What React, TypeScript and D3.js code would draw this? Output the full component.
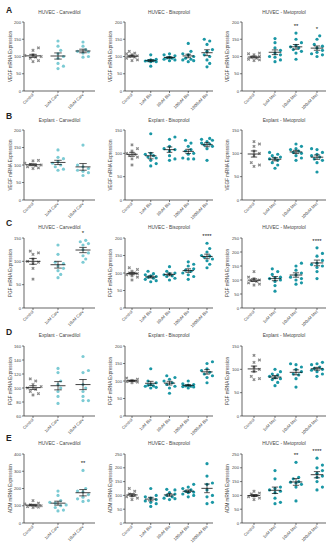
import * as d3 from "d3";
import React from "react";

// group labels
const groupsCarv = ["Control", "1uM Carv", "10uM Carv"];
const groupsBis = ["Control", "1uM Bis", "10uM Bis", "100uM Bis", "1000uM Bis"];
const groupsMet = ["Control", "1uM Met", "10uM Met", "100uM Met"];

// A - VEGF
const vegfHuvecCarv = [
  [125, 118, 105, 100, 98, 95, 88, 85, 103],
  [145, 130, 118, 108, 100, 95, 80, 72, 65],
  [142, 130, 120, 115, 113, 110, 100, 98],
];
const vegfHuvecBis = [
  [115, 110, 105, 100, 98, 95, 90, 88, 102, 108],
  [105, 92, 90, 88, 88, 87, 85, 85, 72],
  [108, 105, 102, 98, 96, 95, 92, 90, 88],
  [138, 115, 108, 105, 100, 95, 92, 90, 88, 85],
  [150, 145, 135, 120, 115, 105, 100, 90, 80, 70],
];
const vegfHuvecMet = [
  [110, 108, 105, 100, 98, 95, 92, 90, 88],
  [152, 140, 125, 118, 110, 105, 100, 98, 90, 85],
  [168, 150, 140, 132, 128, 125, 120, 115, 110, 92],
  [160, 150, 135, 130, 125, 118, 112, 108, 105, 100],
];
const starsVegfHuvecMet = ["", "", "**", "*"];

// B - VEGF explant
const vegfExplCarv = [
  [113, 112, 105, 102, 100, 98, 95, 92, 90],
  [143, 122, 118, 110, 105, 100, 95, 88, 85],
  [157, 100, 95, 90, 85, 82, 78, 70],
];
const vegfExplBis = [
  [118, 110, 105, 100, 98, 95, 92, 88, 75],
  [142, 100, 98, 95, 92, 90, 85, 78, 73],
  [135, 130, 115, 110, 108, 105, 95, 88, 85],
  [128, 122, 115, 108, 105, 100, 98, 90, 88, 88],
  [132, 130, 128, 125, 122, 120, 118, 115, 110, 85],
];
const vegfExplMet = [
  [125, 120, 115, 105, 100, 95, 80, 75, 72],
  [102, 98, 95, 92, 90, 88, 85, 80, 75, 68],
  [120, 115, 110, 108, 105, 102, 100, 95, 90, 85],
  [110, 108, 102, 98, 95, 92, 88, 85, 80, 60],
];

// C - PGF
const pgfHuvecCarv = [
  [122, 118, 115, 105, 100, 98, 95, 85, 62],
  [135, 115, 98, 95, 90, 85, 80, 72, 65],
  [145, 142, 138, 135, 125, 118, 112, 105, 98],
];
const starsPgfHuvecCarv = ["", "", "*"];
const pgfHuvecBis = [
  [115, 110, 105, 100, 100, 98, 95, 92, 88, 80],
  [105, 98, 95, 92, 90, 88, 85, 82, 78, 75],
  [118, 105, 100, 98, 95, 92, 90, 85, 80],
  [132, 125, 120, 112, 108, 105, 100, 95, 90, 82],
  [185, 170, 160, 150, 148, 145, 140, 135, 125, 115],
];
const starsPgfHuvecBis = ["", "", "", "", "****"];
const pgfHuvecMet = [
  [130, 110, 105, 100, 98, 95, 90, 85, 82],
  [140, 130, 120, 110, 108, 105, 100, 95, 80, 60],
  [160, 150, 135, 125, 118, 110, 105, 100, 90, 85],
  [215, 195, 185, 170, 160, 155, 150, 145, 130, 105],
];
const starsPgfHuvecMet = ["", "", "", "****"];

// D - PGF explant
const pgfExplCarv = [
  [113, 110, 105, 102, 100, 98, 95, 92, 90],
  [128, 122, 110, 105, 100, 95, 88, 78],
  [145, 125, 122, 105, 100, 95, 88, 82, 82],
];
const pgfExplBis = [
  [108, 105, 102, 100, 100, 98, 97, 95],
  [135, 100, 95, 90, 88, 86, 85, 82, 80],
  [115, 110, 105, 100, 95, 90, 85, 80, 65],
  [100, 92, 90, 88, 86, 85, 84, 83, 80],
  [155, 150, 135, 130, 125, 120, 115, 110, 95],
];
const pgfExplMet = [
  [130, 120, 115, 105, 100, 95, 85, 80, 78],
  [100, 95, 90, 88, 85, 82, 80, 78, 72, 65],
  [112, 110, 105, 100, 95, 90, 88, 80, 62],
  [115, 112, 110, 105, 102, 100, 98, 95, 90, 85],
];

// E - ADM
const admHuvecCarv = [
  [130, 115, 110, 105, 100, 98, 95, 92, 90],
  [185, 160, 130, 120, 115, 105, 100, 90, 75, 70],
  [305, 200, 185, 180, 165, 150, 140, 130, 125],
];
const starsAdmHuvecCarv = ["", "", "**"];
const admHuvecBis = [
  [125, 115, 105, 100, 98, 95, 90, 85],
  [125, 100, 95, 90, 85, 80, 75, 70, 60],
  [122, 120, 110, 105, 100, 95, 90, 88, 85],
  [140, 130, 125, 120, 115, 112, 110, 105, 100, 95],
  [215, 170, 145, 140, 120, 100, 95, 75, 70],
];
const admHuvecMet = [
  [115, 108, 105, 100, 98, 95, 90, 85],
  [190, 160, 130, 125, 120, 115, 110, 90, 75, 70],
  [220, 165, 160, 150, 148, 145, 140, 130, 80],
  [235, 210, 200, 190, 180, 170, 165, 150, 130, 120],
];
const starsAdmHuvecMet = ["", "", "**", "****"];

const ticks200 = [0, 50, 100, 150, 200];
const ticks150 = [0, 50, 100, 150];
const ticks250 = [0, 50, 100, 150, 200, 250];
const ticks60to160 = [60, 80, 100, 120, 140, 160];
const ticks400 = [0, 100, 200, 300, 400];

const cols = [
  { left: 24, right: 95, first: 33, last: 83, labelX: 12 },
  { left: 125, right: 213, first: 132, last: 207, labelX: 112 },
  { left: 242, right: 326, first: 254, last: 317, labelX: 229 },
];
const rows = [
  { top: 22, bottom: 91, titleY: 14, letterY: 13 },
  { top: 130, bottom: 200, titleY: 122, letterY: 119 },
  { top: 238, bottom: 308, titleY: 229, letterY: 226 },
  { top: 346, bottom: 416, titleY: 337, letterY: 335 },
  { top: 454, bottom: 523, titleY: 445, letterY: 441 },
];

const panels = [
  { row: 0, col: 0, letter: "A", title: "HUVEC - Carvedilol", ylab: "VEGF mRNA Expression", groups: groupsCarv, values: vegfHuvecCarv, ticks: ticks200, stars: null },
  { row: 0, col: 1, title: "HUVEC - Bisoprolol", ylab: "VEGF mRNA Expression", groups: groupsBis, values: vegfHuvecBis, ticks: ticks200, stars: null },
  { row: 0, col: 2, title: "HUVEC - Metoprolol", ylab: "VEGF mRNA Expression", groups: groupsMet, values: vegfHuvecMet, ticks: ticks200, stars: starsVegfHuvecMet },
  { row: 1, col: 0, letter: "B", title: "Explant - Carvedilol", ylab: "VEGF mRNA Expression", groups: groupsCarv, values: vegfExplCarv, ticks: ticks200, stars: null },
  { row: 1, col: 1, title: "Explant - Bisoprolol", ylab: "VEGF mRNA Expression", groups: groupsBis, values: vegfExplBis, ticks: ticks150, stars: null },
  { row: 1, col: 2, title: "Explant - Metoprolol", ylab: "VEGF mRNA Expression", groups: groupsMet, values: vegfExplMet, ticks: ticks150, stars: null },
  { row: 2, col: 0, letter: "C", title: "HUVEC - Carvedilol", ylab: "PGF mRNA Expression", groups: groupsCarv, values: pgfHuvecCarv, ticks: ticks150, stars: starsPgfHuvecCarv },
  { row: 2, col: 1, title: "HUVEC - Bisoprolol", ylab: "PGF mRNA Expression", groups: groupsBis, values: pgfHuvecBis, ticks: ticks200, stars: starsPgfHuvecBis },
  { row: 2, col: 2, title: "HUVEC - Metoprolol", ylab: "PGF mRNA Expression", groups: groupsMet, values: pgfHuvecMet, ticks: ticks250, stars: starsPgfHuvecMet },
  { row: 3, col: 0, letter: "D", title: "Explant - Carvedilol", ylab: "PGF mRNA Expression", groups: groupsCarv, values: pgfExplCarv, ticks: ticks60to160, stars: null },
  { row: 3, col: 1, title: "Explant - Bisoprolol", ylab: "PGF mRNA Expression", groups: groupsBis, values: pgfExplBis, ticks: ticks200, stars: null },
  { row: 3, col: 2, title: "Explant - Metoprolol", ylab: "PGF mRNA Expression", groups: groupsMet, values: pgfExplMet, ticks: ticks150, stars: null },
  { row: 4, col: 0, letter: "E", title: "HUVEC - Carvedilol", ylab: "ADM mRNA Expression", groups: groupsCarv, values: admHuvecCarv, ticks: ticks400, stars: starsAdmHuvecCarv },
  { row: 4, col: 1, title: "HUVEC - Bisoprolol", ylab: "ADM mRNA Expression", groups: groupsBis, values: admHuvecBis, ticks: ticks250, stars: null },
  { row: 4, col: 2, title: "HUVEC - Metoprolol", ylab: "ADM mRNA Expression", groups: groupsMet, values: admHuvecMet, ticks: ticks250, stars: starsAdmHuvecMet },
];

const font = "'Liberation Sans', Arial, sans-serif";
const R = 1.6;

// simple beeswarm so dots with close values spread sideways, kept inside the group
function swarm(vals: number[], y: (v: number) => number, maxOff: number) {
  const placed: { x: number; y: number }[] = [];
  const dx = vals.map(() => 0);
  const order = d3.range(vals.length).sort((a, b) => vals[a] - vals[b]);
  for (const i of order) {
    const py = y(vals[i]);
    let best = 0;
    let bestGap = -1;
    for (let k = 0; k < 30; k++) {
      const cand = k === 0 ? 0 : (k % 2 ? 1 : -1) * Math.ceil(k / 2) * R * 1.7;
      if (Math.abs(cand) > maxOff) break;
      const gap = d3.min(placed, (p) => Math.hypot(p.x - cand, p.y - py)) ?? 99;
      if (gap >= 2 * R * 1.25) {
        best = cand;
        bestGap = 99;
        break;
      }
      if (gap > bestGap) {
        bestGap = gap;
        best = cand;
      }
    }
    placed.push({ x: best, y: py });
    dx[i] = best;
  }
  return dx;
}

const Panel = ({ p }: { p: any }) => {
  const c = cols[p.col];
  const r = rows[p.row];
  const x = d3.scalePoint().domain(p.groups).range([c.first, c.last]);
  const y = d3.scaleLinear().domain(d3.extent(p.ticks) as [number, number]).range([r.bottom, r.top]);
  const step = (c.last - c.first) / (p.groups.length - 1);
  const meanW = step * 0.3;
  const capW = step * 0.15;

  return (
    <g>
      {p.letter && (
        <text x={6} y={r.letterY} fontSize={8.5} fontWeight="bold" fill="#222">
          {p.letter}
        </text>
      )}
      <text x={(c.left + c.right) / 2} y={r.titleY} fontSize={4.8} textAnchor="middle" fill="#444">
        {p.title}
      </text>
      <text
        transform={`translate(${c.labelX},${(r.top + r.bottom) / 2}) rotate(-90)`}
        fontSize={4.6}
        textAnchor="middle"
        fill="#444"
      >
        {p.ylab}
      </text>
      {/* y axis */}
      <line x1={c.left} x2={c.left} y1={r.top} y2={r.bottom} stroke="#222" strokeWidth={0.7} />
      {p.ticks.map((t: number) => (
        <g key={t}>
          <line x1={c.left - 2} x2={c.left} y1={y(t)} y2={y(t)} stroke="#222" strokeWidth={0.6} />
          <text x={c.left - 3} y={y(t) + 1.5} fontSize={4.2} textAnchor="end" fill="#444">
            {t}
          </text>
        </g>
      ))}
      {/* x axis */}
      <line x1={c.left} x2={c.right} y1={r.bottom} y2={r.bottom} stroke="#222" strokeWidth={0.7} />
      {p.groups.map((g: string) => (
        <g key={g}>
          <line x1={x(g)} x2={x(g)} y1={r.bottom} y2={r.bottom + 2} stroke="#222" strokeWidth={0.6} />
          <text
            transform={`translate(${(x(g) as number) + 1},${r.bottom + 4}) rotate(-45)`}
            fontSize={4.2}
            textAnchor="end"
            fill="#444"
          >
            {g}
          </text>
        </g>
      ))}
      {/* groups */}
      {p.values.map((vals: number[], gi: number) => {
        const g = p.groups[gi];
        const cx = x(g) as number;
        const dx = swarm(vals, y, step * 0.38);
        const m = d3.mean(vals) as number;
        const sem = (d3.deviation(vals) as number) / Math.sqrt(vals.length);
        const color = gi === 0 ? "#8a8a8a" : p.col === 0 ? "#7ccbd4" : "#1a97a5";
        return (
          <g key={g}>
            {vals.map((v, i) =>
              gi === 0 ? (
                <path
                  key={i}
                  d={d3.symbol(d3.symbolCross, 7)() as string}
                  transform={`translate(${cx + dx[i]},${y(v)}) rotate(45)`}
                  fill={color}
                />
              ) : (
                <circle key={i} cx={cx + dx[i]} cy={y(v)} r={R} fill={color} />
              )
            )}
            <line x1={cx - meanW} x2={cx + meanW} y1={y(m)} y2={y(m)} stroke="#111" strokeWidth={0.8} />
            <line x1={cx} x2={cx} y1={y(m - sem)} y2={y(m + sem)} stroke="#111" strokeWidth={0.7} />
            <line x1={cx - capW} x2={cx + capW} y1={y(m + sem)} y2={y(m + sem)} stroke="#111" strokeWidth={0.7} />
            <line x1={cx - capW} x2={cx + capW} y1={y(m - sem)} y2={y(m - sem)} stroke="#111" strokeWidth={0.7} />
            {p.stars && p.stars[gi] && (
              <text x={cx} y={y(d3.max(vals) as number) - 5} fontSize={6} textAnchor="middle" fill="#111">
                {p.stars[gi]}
              </text>
            )}
          </g>
        );
      })}
    </g>
  );
};

export default function App() {
  return (
    <svg
      width={335}
      height={550}
      style={{ position: "absolute", left: 0, top: 0, background: "#fff" }}
      fontFamily={font}
    >
      {panels.map((p, i) => (
        <Panel key={i} p={p} />
      ))}
    </svg>
  );
}
